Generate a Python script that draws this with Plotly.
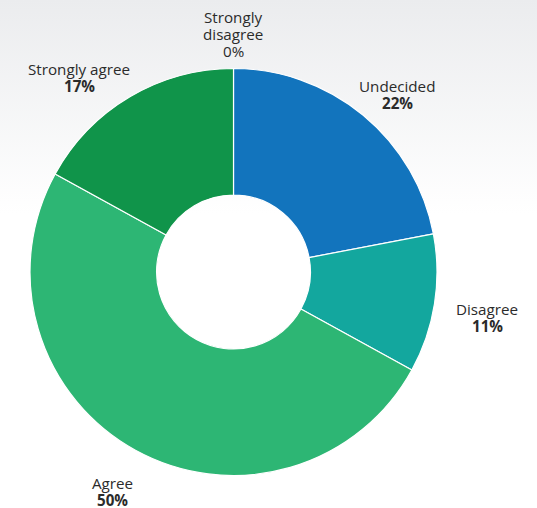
import base64
import plotly.graph_objects as go

# Survey responses (percent of respondents)
categories = ["Strongly disagree", "Undecided", "Disagree", "Agree", "Strongly agree"]
values = [0, 22, 11, 50, 17]
colors = ["#1b6fb8", "#1274bd", "#13a79e", "#2db674", "#10944a"]

W, H = 537, 508

fig = go.Figure(
    go.Pie(
        labels=categories,
        values=values,
        sort=False,
        direction="clockwise",
        rotation=0,
        hole=0.378,
        marker=dict(colors=colors, line=dict(color="white", width=1.2)),
        textinfo="none",
        hoverinfo="label+percent",
        showlegend=False,
        domain=dict(x=[29.5 / W, 437.5 / W], y=[32.5 / H, 439.5 / H]),
    )
)

# Soft grey band fading out toward the middle of the page
svg = (
    '<svg xmlns="http://www.w3.org/2000/svg" width="537" height="508">'
    '<defs><linearGradient id="g" x1="0" y1="0" x2="0" y2="1">'
    '<stop offset="0" stop-color="#ebecee"/>'
    '<stop offset="0.42" stop-color="#ffffff"/>'
    '<stop offset="1" stop-color="#ffffff"/>'
    '</linearGradient></defs>'
    '<rect width="537" height="508" fill="url(#g)"/></svg>'
)
bg_src = "data:image/svg+xml;base64," + base64.b64encode(svg.encode()).decode()
fig.add_layout_image(
    source=bg_src, xref="paper", yref="paper", x=0, y=1, sizex=1, sizey=1,
    xanchor="left", yanchor="top", sizing="stretch", layer="below",
)

# Label placement: pixel centre of the first line of each text block
label_pos = {
    "Strongly disagree": (233, 17),
    "Undecided": (397, 86),
    "Disagree": (487, 309),
    "Agree": (112, 483),
    "Strongly agree": (79, 69),
}
label_lines = {
    "Strongly disagree": ["Strongly", "disagree", "{v}%"],
    "Undecided": ["Undecided", "<b>{v}%</b>"],
    "Disagree": ["Disagree", "<b>{v}%</b>"],
    "Agree": ["Agree", "<b>{v}%</b>"],
    "Strongly agree": ["Strongly agree", "<b>{v}%</b>"],
}
LINE_STEP = 17
FONT = dict(family="Open Sans, Noto Sans, sans-serif", size=15.2, color="#2b2b2b")

for cat, val in zip(categories, values):
    px, py = label_pos[cat]
    for i, line in enumerate(label_lines[cat]):
        fig.add_annotation(
            x=px / W, y=1 - (py + i * LINE_STEP) / H, xref="paper", yref="paper",
            text=line.format(v=val), showarrow=False,
            xanchor="center", yanchor="middle", align="center",
            borderpad=0, font=FONT,
        )

fig.update_layout(
    width=W, height=H,
    margin=dict(l=0, r=0, t=0, b=0),
    paper_bgcolor="white",
    plot_bgcolor="white",
)

fig.write_html("out.html")
